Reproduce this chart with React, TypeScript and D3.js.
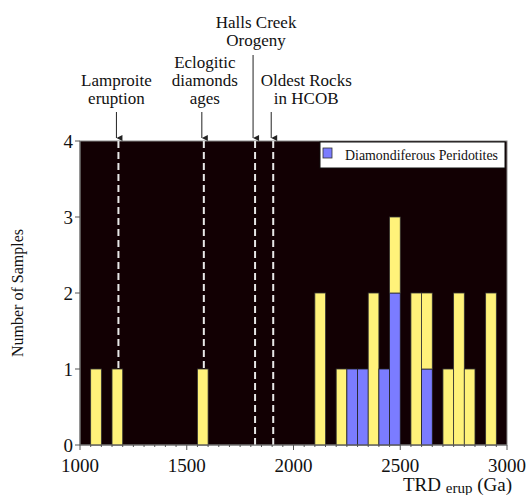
import React from "react";
import * as d3 from "d3";

const binStarts = [1050, 1150, 1550, 2100, 2200, 2250, 2300, 2350, 2400, 2450, 2550, 2600, 2700, 2750, 2800, 2900];
const peridotiteCounts = [0, 0, 0, 0, 0, 1, 1, 0, 1, 2, 0, 1, 0, 0, 0, 0];
const otherCounts = [1, 1, 1, 2, 1, 0, 0, 2, 0, 1, 2, 1, 1, 2, 1, 2];
const binWidth = 50;
const xTicks = [1000, 1500, 2000, 2500, 3000];
const yTicks = [0, 1, 2, 3, 4];
const eventAges = [1180, 1580, 1820, 1905];
const eventLabels = [["Lamproite", "eruption"], ["Eclogitic", "diamonds", "ages"], ["Halls Creek", "Orogeny"], ["Oldest Rocks", "in HCOB"]];
const legendLabel = "Diamondiferous Peridotites";

export default function App() {
  const W = 529, H = 495;
  const x = d3.scaleLinear().domain([1000, 3000]).range([80, 507]);
  const y = d3.scaleLinear().domain([0, 4]).range([445, 141]);
  const minor = d3.range(1000, 3001, 50);
  const font = "'Liberation Serif', 'Times New Roman', serif";
  const blue = "#7b7cff";
  const yellow = "#fff27a";
  const labelBottoms = [104, 104, 46, 104];
  const arrowTops = [112, 112, 55, 112];
  const labelOffsets = [0, 3, 3, 35];

  return (
    <svg width={W} height={H} style={{ position: "absolute", left: 0, top: 0, background: "#fff" }}>
      <defs>
        <marker id="ah" viewBox="0 0 10 10" refX="5" refY="10" markerWidth="6" markerHeight="7" orient="auto-start-reverse" markerUnits="userSpaceOnUse">
          <path d="M0,0 L5,10 L10,0 Z" fill="#222" />
        </marker>
      </defs>
      <rect x={x(1000)} y={y(4)} width={x(3000) - x(1000)} height={y(0) - y(4)} fill="#120003" stroke="#888" strokeWidth={1} />
      {eventAges.map((a, i) => (
        <line key={"d" + i} x1={x(a)} x2={x(a)} y1={y(4)} y2={y(0)} stroke="#e8e8e8" strokeWidth={2} strokeDasharray="7,4" />
      ))}
      {binStarts.map((b, i) => {
        const bp = peridotiteCounts[i];
        const bo = otherCounts[i];
        return (
          <g key={"b" + i}>
            {bp > 0 && (
              <rect x={x(b)} width={x(b + binWidth) - x(b)} y={y(bp)} height={y(0) - y(bp)} fill={blue} stroke="#222" strokeWidth={0.8} />
            )}
            {bo > 0 && (
              <rect x={x(b)} width={x(b + binWidth) - x(b)} y={y(bp + bo)} height={y(bp) - y(bp + bo)} fill={yellow} stroke="#333" strokeWidth={0.8} />
            )}
          </g>
        );
      })}
      <line x1={x(1000)} x2={x(3000)} y1={y(0)} y2={y(0)} stroke="#666" strokeWidth={1} />
      <line x1={x(1000)} x2={x(1000)} y1={y(0)} y2={y(4)} stroke="#666" strokeWidth={1} />
      {minor.map((m) => (
        <line key={"m" + m} x1={x(m)} x2={x(m)} y1={y(0)} y2={y(0) + (m % 500 === 0 ? 5 : 2)} stroke="#555" strokeWidth={1} />
      ))}
      {xTicks.map((t) => (
        <text key={"xt" + t} x={x(t)} y={472} textAnchor="middle" fontFamily={font} fontSize={19} fill="#111">{t}</text>
      ))}
      {yTicks.map((t) => (
        <g key={"yt" + t}>
          <line x1={x(1000) - 5} x2={x(1000)} y1={y(t)} y2={y(t)} stroke="#555" strokeWidth={1} />
          <text x={73} y={y(t) + 7} textAnchor="end" fontFamily={font} fontSize={19} fill="#111">{t}</text>
        </g>
      ))}
      <text transform={`translate(23,${y(2)}) rotate(-90)`} textAnchor="middle" fontFamily={font} fontSize={16} fill="#111">Number of Samples</text>
      <text x={403} y={491} fontFamily={font} fontSize={19} fill="#111">
        TRD <tspan fontSize={15} dy={2}>erup</tspan><tspan dy={-2}> (Ga)</tspan>
      </text>
      <rect x={320} y={142} width={185} height={26} fill="#fff" stroke="#111" strokeWidth={1} />
      <rect x={323} y={148} width={9} height={10} fill={blue} stroke="#333" strokeWidth={0.8} />
      <text x={345} y={160} fontFamily={font} fontSize={15} fill="#111" textLength={153} lengthAdjust="spacingAndGlyphs">{legendLabel}</text>
      {eventAges.map((a, i) => {
        const lines = eventLabels[i];
        const cx = x(a) - 2 + labelOffsets[i];
        const ax = x(a) - 2;
        return (
          <g key={"e" + i}>
            {lines.map((l, j) => (
              <text key={j} x={cx} y={labelBottoms[i] - (lines.length - 1 - j) * 18} textAnchor="middle" fontFamily={font} fontSize={17} fill="#111">{l}</text>
            ))}
            <line x1={ax} x2={ax} y1={arrowTops[i]} y2={138} stroke="#222" strokeWidth={1} markerEnd="url(#ah)" />
          </g>
        );
      })}
    </svg>
  );
}
